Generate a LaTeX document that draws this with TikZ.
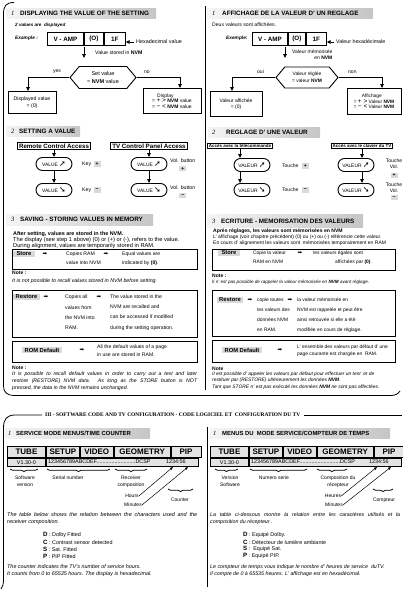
\documentclass[tikz,border=0pt]{standalone}
\usepackage{fontspec}
\setmainfont{Liberation Sans}
\newfontfamily\tnr{Liberation Serif}
\newfontfamily\symf{DejaVu Sans}
\usetikzlibrary{positioning,arrows.meta,shapes.symbols,shapes.misc,decorations.pathreplacing}
\newcommand\sz[2]{\fontsize{#1}{#2}\selectfont}

\begin{document}
\begin{tikzpicture}[x=1pt, y=-1pt,
  txt/.style={inner sep=0, anchor=west, font=\sz{5.7}{6}},
  ttl/.style={inner sep=0, anchor=west, font=\sz{6.3}{7}\bfseries},
  num/.style={inner sep=0, anchor=west, font=\tnr\itshape\sz{6.5}{7}},
  band/.style={left color=gray!8, right color=gray!45},
  rim/.style={line width=0.8pt},
  cell/.style={draw, line width=0.9pt, minimum height=13, inner sep=0, font=\sz{6.3}{7}\bfseries},
  arr/.style={line width=0.8pt, -{Triangle[length=4pt,width=3.6pt]}},
  tarr/.style={line width=0.5pt, -{Triangle[length=3pt,width=2.4pt]}},
  box/.style={draw, line width=0.9pt, inner sep=1.2pt, align=center, font=\sz{5.2}{7}},
  hexa/.style={draw, line width=0.9pt, shape=signal, signal to=east and west, signal pointer angle=100,
    minimum width=66, minimum height=22, inner sep=0, align=center, font=\sz{5.5}{7.5}},
  access/.style={draw, line width=1pt, inner xsep=1.5pt, inner ysep=1.2pt, font=\sz{6.2}{7}\bfseries},
  faccess/.style={access, inner ysep=1pt, font=\sz{4.5}{5}\bfseries},
  oval/.style={draw, line width=0.9pt, rounded rectangle, minimum width=38, minimum height=13, inner sep=1pt, font=\sz{4.9}{6}},
  keycap/.style={fill=gray!30, inner sep=0.6pt, minimum width=7, minimum height=5.5, font=\sz{5}{5}\bfseries},
  memo/.style={draw, line width=1.1pt, anchor=north west, minimum width=185, inner sep=0},
  tag/.style={fill=gray!30, inner xsep=2.5pt, inner ysep=0.8pt, font=\sz{5.8}{7}\bfseries},
  fwd/.style={inner sep=0, font=\symf\sz{5.5}{6}},
  pair/.style={txt, align=left, font=\sz{5.1}{9}},
  head/.style={draw, line width=0.9pt, fill=gray!22, minimum height=11, inner sep=0, font=\sz{8}{8}\bfseries},
  row/.style={draw, line width=0.9pt, fill=gray!22, minimum height=8.5, inner sep=0, font=\sz{5.4}{6}},
  brc/.style={decorate, decoration={brace, mirror, amplitude=2.5pt}, line width=0.8pt},
  lbl/.style={inner sep=0, align=center, font=\sz{5}{7}}
  ]
  \useasboundingbox (0,0) rectangle (403,589);

  \draw[rim] (14,2.5) .. controls (6,2.5) and (3.5,6) .. (3.5,14) -- (3.5,386) .. controls (3.5,392) and (7,395.5) .. (14,395.5) -- (391,395.5) .. controls (395,395.5) and (398,394) .. (400,391);
  \draw[rim] (205,6) -- (205,390);

  \fill[band] (6,8) rectangle (156,18);
  \node[num] (n1) at (11,13) {1};
  \node[ttl] (t1) at (20,13) {DISPLAYING THE VALUE OF THE SETTING};
  \node[txt, font=\sz{4.6}{6}\bfseries\itshape] (two) at (15,25) {2 values are\ \ displayed};
  \node[txt, font=\sz{4.8}{6}\bfseries\itshape] (exa) at (15,38) {Example :};
  \node[cell, anchor=north west, minimum width=36] (ex1) at (47,32) {V - AMP};
  \node[cell, right=0pt of ex1, minimum width=19] (ex2) {(O)};
  \node[cell, right=0pt of ex2, minimum width=21] (ex3) {1F};
  \node[txt, font=\sz{5.4}{6}] (hexv) at (136,42) {Hexadecimal value};
  \draw[arr] ([xshift=-2pt]hexv.west) -- (hexv.west -| ex3.east);
  \coordinate (vs0) at (84,47);
  \coordinate (vs1) at (84,58);
  \draw[arr] (vs0) -- (vs1);
  \node[txt, font=\sz{5.2}{6}] (vstored) at (95,53) {Value stored in \textbf{NVM}};
  \node[hexa] (setv) at (103,77.5) {Set value\\= \textbf{NVM} value};
  \node[txt, font=\sz{5}{6}] (yes) at (53,72) {yes};
  \node[txt, font=\sz{5}{6}] (no) at (144,72) {no};
  \node[box, anchor=north, minimum width=48, minimum height=22] (disp) at (32,91) {Displayed value\\= (0)};
  \node[box, anchor=north, minimum width=58, minimum height=25, align=left, font=\sz{5}{5.5}] (dsp) at (172,88) {\hspace*{5pt}Display\\= {\sz{6.5}{5}+ >} \textbf{NVM} value\\= {\sz{6.5}{5}− <} \textbf{NVM} value};
  \draw[arr] (setv.west) -| ([xshift=-4pt]disp.north);
  \draw[arr] (setv.east) -| ([xshift=8pt]dsp.north);

  \fill[band] (6,126) rectangle (80,136);
  \node[num] (n2) at (11,131) {2};
  \node[ttl] (t2) at (19,131) {SETTING A VALUE};
  \node[access, anchor=north] (rca) at (54,142) {Remote Control Access};
  \node[access, anchor=north] (tca) at (149,142) {TV Control Panel Access};
  \node[oval] (v1) at (54,164) {VALUE {\symf\sz{8}{8}➚}};
  \node[oval] (v2) at (54,190) {VALUE {\symf\sz{8}{8}➘}};
  \node[oval] (v3) at (149,164) {VALUE {\symf\sz{8}{8}➚}};
  \node[oval] (v4) at (149,190) {VALUE {\symf\sz{8}{8}➘}};
  \draw[arr] (rca.south) -- (v1.north);
  \draw[arr] (v1.south) -- (v2.north);
  \draw[arr] (tca.south) -- (v3.north);
  \draw[arr] (v3.south) -- (v4.north);
  \node[txt, font=\sz{5.2}{6}] (k1) at (82,164) {Key};
  \node[keycap, right=2pt of k1] (p1) {+};
  \node[txt, font=\sz{5.2}{6}] (k2) at (82,190) {Key};
  \node[keycap, right=2pt of k2] (m1) {−};
  \node[txt, font=\sz{5.2}{6}] (vb1) at (170,161) {Vol. button};
  \node[keycap, below=2.5pt of vb1] (p2) {+};
  \node[txt, font=\sz{5.2}{6}] (vb2) at (170,188) {Vol. button};
  \node[keycap, below=2.5pt of vb2] (m2) {−};

  \fill[band] (6,214) rectangle (153,225);
  \node[num] (n3) at (11,219.5) {3};
  \node[ttl] (t3) at (20,219.5) {SAVING - STORING VALUES IN MEMORY};
  \node[txt, font=\sz{5.4}{6}\bfseries] (s1) at (13,234) {After setting, values are stored in the NVM.};
  \node[txt] (s2) at (13,240) {The display (see step 1 above) (0) or (+) or (-), refers to the value.};
  \node[txt] (s3) at (13,246) {During alignment, values are temporarily stored in RAM.};
  \node[memo, minimum height=20] (store) at (12,249) {};
  \node[tag, inner xsep=3.5pt] (stt) at (24,254) {Store};
  \node[fwd] (sa1) at (45,254) {➡};
  \node[pair] (sc1) at (66,258.5) {Copies RAM\\value into NVM};
  \node[fwd] (sa2) at (106,254) {➡};
  \node[pair] (sc2) at (122,258.5) {Equal values are\\indicated by \textbf{(0)}.};
  \node[txt, font=\sz{5}{6}\bfseries] (nt1) at (12,273) {Note :};
  \node[txt, font=\sz{5.3}{6}\itshape] (nt2) at (12,281) {It is not possible to recall values stored in NVM before setting.};
  \node[memo, minimum height=47] (restore) at (12,290) {};
  \node[tag] (rst) at (26.5,297) {Restore};
  \node[fwd] (ra1) at (46,297) {➡};
  \node[pair, font=\sz{5.1}{10.3}] (rc1) at (65,312.5) {Copies all\\values from\\the NVM into\\RAM.};
  \node[fwd] (ra2) at (99,297) {➡};
  \node[pair, font=\sz{5.1}{10.3}] (rc2) at (110,312.5) {The value stored in the\\NVM are recalled and\\can be accessed if modified\\during the setting operation.};
  \node[memo, minimum height=21] (rom) at (12,341) {};
  \node[tag] (rmt) at (42,350) {ROM Default};
  \node[fwd] (ma1) at (82,350) {➡};
  \node[pair, font=\sz{5.1}{8}] (mc1) at (97,351) {All the default values of a page\\in use are stored in RAM.};
  \node[txt, font=\sz{5}{6}\bfseries] (nt3) at (12,368) {Note :};
  \node[txt, text width=185, align=justify, font=\sz{5.2}{7}\itshape] (nt4) at (12,381) {It is possible to recall default values in order to carry out a test and later\linebreak restore (RESTORE) NVM data. As long as the STORE button is NOT\linebreak pressed, the data in the NVM remains unchanged.};

  \fill[band] (207,8) rectangle (373,18);
  \node[num] (fn1) at (212,13) {1};
  \node[ttl] (ft1) at (222,13) {AFFICHAGE DE LA VALEUR D' UN REGLAGE};
  \node[txt, font=\sz{5.1}{6}] (fdeux) at (212,25) {Deux valeurs sont affichées.};
  \node[txt, font=\sz{4.8}{6}\bfseries\itshape] (fexa) at (226,38) {Exemple:};
  \node[cell, anchor=north west, minimum width=35] (fx1) at (252,32) {V - AMP};
  \node[cell, right=0pt of fx1, minimum width=17] (fx2) {(O)};
  \node[cell, right=0pt of fx2, minimum width=20] (fx3) {1F};
  \node[txt, font=\sz{5.3}{6}] (fhex) at (336,42) {Valeur hexadécimale};
  \draw[arr] ([xshift=-2pt]fhex.west) -- (fhex.west -| fx3.east);
  \coordinate (fvs0) at (285,47);
  \coordinate (fvs1) at (285,58);
  \draw[arr] (fvs0) -- (fvs1);
  \node[txt, align=right, font=\sz{5}{5.5}] (fvstored) at (292,54.5) {Valeur mémorisée\\en \textbf{NVM}};
  \node[hexa, minimum width=62, minimum height=21, font=\sz{4.9}{7}] (fsetv) at (307,77.5) {Valeur réglée\\= valeur \textbf{NVM}};
  \node[txt, font=\sz{5}{6}] (foui) at (257,72) {oui};
  \node[txt, font=\sz{5}{6}] (fnon) at (348,72) {non};
  \node[box, anchor=north, minimum width=52, minimum height=25, font=\sz{5}{6.5}] (fdisp) at (236,91) {Valeur affichée\\= (0)};
  \node[box, anchor=north, minimum width=54, minimum height=26, align=left, font=\sz{4.8}{5.5}] (fdsp) at (374,88) {\hspace*{8pt}Affichage\\= {\sz{6.5}{5}+ >} Valeur \textbf{NVM}\\= {\sz{6.5}{5}− <} Valeur \textbf{NVM}};
  \draw[arr] (fsetv.west) -| ([xshift=-4pt]fdisp.north);
  \draw[arr] (fsetv.east) -| ([xshift=8pt]fdsp.north);

  \fill[band] (208,127) rectangle (320,137);
  \node[num] (fn2) at (212,132) {2};
  \node[ttl] (ft2) at (226,132) {REGLAGE D' UNE VALEUR};
  \node[faccess, anchor=north] (ftlc) at (240,142.5) {Accès avec la télécommande};
  \node[faccess, anchor=north] (fclv) at (362,142.5) {Accès avec le clavier du TV};
  \node[oval] (w1) at (252,165) {VALEUR {\symf\sz{8}{8}➚}};
  \node[oval] (w2) at (252,190) {VALEUR {\symf\sz{8}{8}➘}};
  \node[oval] (w3) at (356,165) {VALEUR {\symf\sz{8}{8}➚}};
  \node[oval] (w4) at (356,190) {VALEUR {\symf\sz{8}{8}➘}};
  \draw[arr] (ftlc.south) -- (ftlc.south |- w1.north);
  \draw[arr] (ftlc.south |- w1.south) -- (ftlc.south |- w2.north);
  \draw[arr] (fclv.south) -- (fclv.south |- w3.north);
  \draw[arr] (fclv.south |- w3.south) -- (fclv.south |- w4.north);
  \node[txt, font=\sz{5}{6}] (fk1) at (282,166) {Touche};
  \node[keycap, right=3pt of fk1] (fp1) {+};
  \node[txt, font=\sz{5}{6}] (fk2) at (282,190) {Touche};
  \node[keycap, right=3pt of fk2] (fm1) {−};
  \node[txt, anchor=north, align=center, font=\sz{5}{6}] (fvb1) at (394,158.5) {Touche\\Vol.};
  \node[keycap, below=4pt of fvb1] (fp2) {+};
  \node[txt, anchor=north, align=center, font=\sz{5}{6}] (fvb2) at (394,182.5) {Touche\\Vol.};
  \node[keycap, below=2pt of fvb2] (fm2) {−};

  \fill[band] (207,214) rectangle (363,227);
  \node[num] (fn3) at (212,221) {3};
  \node[ttl] (ft3) at (221,221) {ECRITURE - MEMORISATION DES VALEURS};
  \node[txt, font=\sz{5.1}{6}\bfseries] (fs1) at (213,231) {Après réglages, les valeurs sont mémorisées en NVM};
  \node[txt, font=\sz{5}{6}] (fs2) at (213,237) {L' affichage (voir chapitre précédent) (0) ou (+) ou (-) référencie cette valeur.};
  \node[txt, font=\sz{5}{6}] (fs3) at (213,243) {En cours d' alignement les valeurs sont\ \ mémorisées temporairement en RAM};
  \node[memo, minimum width=183, minimum height=21] (fstore) at (212,249) {};
  \node[tag, inner xsep=3.5pt] (fstt) at (229,253) {Store};
  \node[pair, font=\sz{4.9}{9}] (fsc1) at (253,257.5) {Copie la valeur\\RAM en NVM};
  \node[fwd] (fsa2) at (300,253) {➡};
  \node[pair, font=\sz{4.9}{9}] (fsc2) at (313,257.5) {les valeurs égales sont\\\hspace*{22pt}affichées par \textbf{(0)}.};
  \node[txt, font=\sz{5}{6}\bfseries] (fnt1) at (212,276) {Note :};
  \node[txt, font=\sz{4.6}{6}\itshape] (fnt2) at (212,282) {Il n' est pas possible de rappeler la valeur mémorisée en \textbf{NVM} avant réglage.};
  \node[memo, minimum width=183, minimum height=46] (frestore) at (212,290) {};
  \node[tag] (frst) at (230,300) {Restore};
  \node[fwd] (fra1) at (250,300) {➡};
  \node[pair, font=\sz{4.9}{10}] (frc1) at (257,315) {copie toutes\\les valeurs des\\données NVM\\en RAM.};
  \node[fwd] (fra2) at (290,300) {➡};
  \node[pair, font=\sz{4.9}{10}] (frc2) at (297,315) {la valeur mémorisée en\\NVM est rappelée et peut être\\ainsi retrouvée si elle a été\\modifiée en cours de réglage.};
  \node[memo, minimum width=183, minimum height=22] (from) at (212,340) {};
  \node[tag] (frmt) at (242,350) {ROM Default};
  \node[fwd] (fma1) at (280,350) {➡};
  \node[pair, font=\sz{4.9}{7.5}] (fmc1) at (297,350.5) {L' ensemble des valeurs par défaut d' une\\page courante est chargée en\ \ RAM.};
  \node[txt, font=\sz{5}{6}\bfseries] (fnt3) at (212,369) {Note};
  \node[txt, align=left, font=\sz{4.9}{6.5}\itshape] (fnt4) at (212,380.5) {Il est possible d' appeler les valeurs par défaut pour effectuer un test\ \ et de\\restituer par (RESTORE) ultérieurement les données \textbf{NVM}.\\Tant que STORE n' est pas exécuté les données \textbf{NVM} ne sont pas affectées.};

  \node[inner sep=0, anchor=west, font=\tnr\bfseries\sz{5.45}{6}] (sec3) at (45,415) {III - SOFTWARE CODE AND TV CONFIGURATION - CODE LOGICIEL ET\ \ CONFIGURATION DU TV};
  \draw[rim] ([xshift=-3pt]sec3.west) -- (15,415) .. controls (7,415) and (3.5,419) .. (3.5,428) -- (3.5,580) .. controls (3.5,584) and (2.5,587) .. (1,589);
  \draw[rim] ([xshift=4pt]sec3.east) -- (402,415);
  \draw[rim] (207,427) -- (207,587);

  \fill[band] (5,428) rectangle (150,438);
  \node[num] (gn0) at (8,433) {1};
  \node[ttl, font=\sz{5.9}{6}\bfseries] (gt0) at (16,433) {SERVICE MODE MENUS/TIME COUNTER};
  \node[head, anchor=north west, minimum width=38] (ta1) at (7,446) {TUBE};
  \node[head, right=0pt of ta1, minimum width=33] (ta2) {SETUP};
  \node[head, right=0pt of ta2, minimum width=33] (ta3) {VIDEO};
  \node[head, right=0pt of ta3, minimum width=56] (ta4) {GEOMETRY};
  \node[head, right=0pt of ta4, minimum width=30] (ta5) {PIP};
  \node[row, below=0pt of ta1, minimum width=38] (ra1) {V1.30-0};
  \node[row, anchor=north west, minimum width=152] (ra2) at (ta2.south west) {};
  \node[txt, font=\sz{5.4}{6}] (sn0) at (48,461.5) {123456789ABCDEF..........................DCSP};
  \node[txt, font=\sz{5.4}{6}] (hm0) at (166,461.5) {1234:56};
  \draw[brc] (10,469) -- (38,469);
  \draw[brc] (47,469) -- (110,469);
  \draw[brc] (115,469) -- (147,469);
  \draw[brc] (168,489) -- (193,489);
  \node[lbl] (la1) at (25,481.5) {Software\\version};
  \node[lbl] (la2) at (68,478) {Serial number};
  \node[lbl] (la3) at (131,481.5) {Receiver\\composition};
  \node[lbl] (hrs0) at (132,496) {Hours};
  \node[lbl] (min0) at (133,505) {Minutes};
  \node[lbl] (cnt0) at (180,500) {Counter};
  \coordinate (hh0) at (173,467);
  \coordinate (mm0) at (188,467);
  \draw[tarr] (hrs0.east) -- (hh0);
  \draw[tarr] (min0.east) -- (mm0);
  \node[txt, text width=190, align=justify, font=\sz{5.5}{7}\itshape] (tx0) at (7,518.5) {The table below shows the relation between the characters used and the\linebreak receiver composition.};
  \node[txt, font=\sz{5.4}{6}] (d0) at (43,535) {{\bfseries\sz{6.2}{6}D} : Dolby Fitted};
  \node[txt, font=\sz{5.4}{6}] (c0) at (43,542) {{\bfseries\sz{6.2}{6}C} : Contrast sensor detected};
  \node[txt, font=\sz{5.4}{6}] (s0) at (43,549) {{\bfseries\sz{6.2}{6}S} : Sat. Fitted};
  \node[txt, font=\sz{5.4}{6}] (p0) at (43,556) {{\bfseries\sz{6.2}{6}P} : PIP Fitted};
  \node[txt, align=left, font=\sz{5.4}{7}\itshape] (cx0) at (7,570.5) {The counter indicates the TV's number of service hours.\\It counts from 0 to 65535 hours. The display is hexadecimal.};

  \fill[band] (210,428) rectangle (390,438);
  \node[num] (gn1) at (213,433) {1};
  \node[ttl, font=\sz{5.9}{6}\bfseries] (gt1) at (222,433) {MENUS DU\ \ MODE SERVICE/COMPTEUR DE TEMPS};
  \node[head, anchor=north west, minimum width=38] (tb1) at (210,446) {TUBE};
  \node[head, right=0pt of tb1, minimum width=33] (tb2) {SETUP};
  \node[head, right=0pt of tb2, minimum width=33] (tb3) {VIDEO};
  \node[head, right=0pt of tb3, minimum width=56] (tb4) {GEOMETRY};
  \node[head, right=0pt of tb4, minimum width=30] (tb5) {PIP};
  \node[row, below=0pt of tb1, minimum width=38] (rb1) {V1.30-0};
  \node[row, anchor=north west, minimum width=152] (rb2) at (tb2.south west) {};
  \node[txt, font=\sz{5.4}{6}] (sn1) at (251,461.5) {123456789ABCDEF...........................DCSP};
  \node[txt, font=\sz{5.4}{6}] (hm1) at (369,461.5) {1234:56};
  \draw[brc] (215,469) -- (238,469);
  \draw[brc] (250,469) -- (307,469);
  \draw[brc] (317,469) -- (347,469);
  \draw[brc] (373,489) -- (393,489);
  \node[lbl] (lb1) at (230,481.5) {Version\\Software};
  \node[lbl] (lb2) at (274,478) {Numero serie};
  \node[lbl] (lb3) at (338,481.5) {Composition du\\récepteur};
  \node[lbl] (hrs1) at (333,496) {Heures};
  \node[lbl] (min1) at (334,505) {Minutes};
  \node[lbl] (cnt1) at (384,500) {Compteur};
  \coordinate (hh1) at (377,467);
  \coordinate (mm1) at (391,467);
  \draw[tarr] (hrs1.east) -- (hh1);
  \draw[tarr] (min1.east) -- (mm1);
  \node[txt, text width=190, align=justify, font=\sz{5.3}{7}\itshape] (tx1) at (210,518.5) {La table ci-dessous montre la relation entre les caractères utilisés et la\linebreak composition du récepteur .};
  \node[txt, font=\sz{5.4}{6}] (d1) at (243,535) {{\bfseries\sz{6.2}{6}D} : Equipé Dolby.};
  \node[txt, font=\sz{5.4}{6}] (c1) at (243,542) {{\bfseries\sz{6.2}{6}C} : Détecteur de lumière ambiante};
  \node[txt, font=\sz{5.4}{6}] (s1b) at (243,549) {{\bfseries\sz{6.2}{6}S} :\ \ Equipé Sat.};
  \node[txt, font=\sz{5.4}{6}] (p1b) at (243,556) {{\bfseries\sz{6.2}{6}P} : Equipé PIP.};
  \node[txt, align=left, font=\sz{5.3}{7}\itshape] (cx1) at (210,570.5) {Le compteur de temps vous indique le nombre d' heures de service\ \ duTV.\\Il compte de 0 à 65535 heures. L' affichage est en hexadécimal.};
\end{tikzpicture}
\end{document}
